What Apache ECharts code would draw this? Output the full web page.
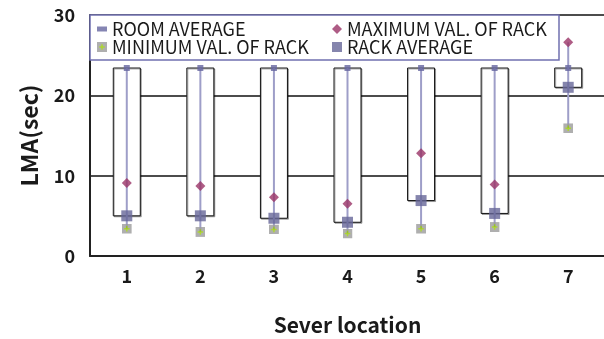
<!DOCTYPE html>
<html>
<head>
<meta charset="utf-8">
<script src="https://cdn.jsdelivr.net/npm/echarts@6/dist/echarts.min.js"></script>
<style>html,body{margin:0;padding:0;background:#fff}#c{width:604px;height:339px}</style>
</head>
<body>
<div id="c"></div>
<script>
var categories = ['1', '2', '3', '4', '5', '6', '7'];
var roomAvg = [23.4, 23.4, 23.4, 23.4, 23.4, 23.4, 23.4];
var maxVal = [9.1, 8.7, 7.3, 6.5, 12.8, 8.9, 26.6];
var minVal = [3.4, 3.0, 3.3, 2.8, 3.4, 3.6, 15.9];
var rackAvg = [5.0, 5.0, 4.7, 4.2, 6.9, 5.3, 21.0];
var yTicks = [0, 10, 20, 30];

var FONT = 'Noto Sans CJK KR';
var minSvg = "<svg xmlns='http://www.w3.org/2000/svg' width='20' height='20'><rect width='20' height='20' fill='#9c9c9c'/><path d='M10 4.5V15.5M4.5 10H15.5' stroke='#9acd00' stroke-width='3'/></svg>";
var minSymbol = 'image://data:image/svg+xml;charset=utf-8,' + encodeURIComponent(minSvg);

var rows = categories.map(function (c, i) {
  return [i, roomAvg[i], maxVal[i], minVal[i], rackAvg[i]];
});

var chart = echarts.init(document.getElementById('c'), null, {renderer: 'canvas'});
var legendText = {fontSize: 18, color: '#1a1a1a', fontFamily: FONT};
chart.setOption({
  animation: false,
  grid: {left: 90, right: -1, top: 15, bottom: 83, outerBoundsMode: 'none', containLabel: false},
  graphic: [{
    type: 'rect', z: 3,
    shape: {x: 90, y: 15, width: 469, height: 45},
    style: {fill: '#fff', stroke: '#7070b0', lineWidth: 1.5}
  }],
  legend: [
    {data: ['ROOM AVERAGE'], left: 97, top: 20, padding: 0, itemWidth: 10, itemHeight: 5, textStyle: legendText, z: 5},
    {data: ['MINIMUM VAL. OF RACK'], left: 97, top: 38, padding: 0, itemWidth: 10, itemHeight: 10, textStyle: legendText, z: 5},
    {data: ['MAXIMUM VAL. OF RACK'], left: 332, top: 20, padding: 0, itemWidth: 10, itemHeight: 10, textStyle: legendText, z: 5},
    {data: ['RACK AVERAGE'], left: 332, top: 38, padding: 0, itemWidth: 10, itemHeight: 10, textStyle: legendText, z: 5}
  ],
  xAxis: {
    type: 'category', data: categories,
    name: 'Sever location', nameLocation: 'middle', nameGap: 59,
    nameTextStyle: {fontSize: 21, fontWeight: 'bold', color: '#1a1a1a', fontFamily: FONT},
    axisLine: {lineStyle: {color: '#222', width: 2}},
    axisTick: {show: false},
    axisLabel: {fontSize: 18, fontWeight: 'bold', color: '#1a1a1a', fontFamily: FONT, margin: 11}
  },
  yAxis: {
    type: 'value', min: yTicks[0], max: yTicks[yTicks.length - 1], interval: 10,
    name: 'LMA(sec)', nameLocation: 'middle', nameGap: 49,
    nameTextStyle: {fontSize: 23, fontWeight: 'bold', color: '#1a1a1a', fontFamily: FONT},
    axisLine: {show: true, lineStyle: {color: '#222', width: 2}},
    axisTick: {show: false},
    axisLabel: {fontSize: 18, fontWeight: 'bold', color: '#1a1a1a', fontFamily: FONT, margin: 15},
    splitLine: {lineStyle: {color: '#111', width: 1.5}}
  },
  series: [
    {
      type: 'custom', name: 'box', data: rows, silent: true,
      encode: {x: 0, y: [1, 4]},
      renderItem: function (params, api) {
        var top = api.coord([api.value(0), api.value(1)]);
        var bot = api.coord([api.value(0), api.value(4)]);
        var w = 27;
        return {
          type: 'rect',
          shape: {x: top[0] - w / 2, y: Math.min(top[1], bot[1]), width: w, height: Math.abs(bot[1] - top[1])},
          style: {fill: '#fff', stroke: '#111', lineWidth: 1, shadowColor: 'rgba(0,0,0,0.3)', shadowOffsetX: 1, shadowOffsetY: 1, shadowBlur: 0}
        };
      }
    },
    {
      type: 'custom', name: 'hilo', data: rows, silent: true,
      encode: {x: 0, y: [1, 2, 3, 4]},
      renderItem: function (params, api) {
        var vals = [api.value(1), api.value(2), api.value(3), api.value(4)];
        var hi = Math.max.apply(null, vals), lo = Math.min.apply(null, vals);
        var p1 = api.coord([api.value(0), hi]);
        var p2 = api.coord([api.value(0), lo]);
        return {
          type: 'line',
          shape: {x1: p1[0], y1: p1[1], x2: p2[0], y2: p2[1]},
          style: {stroke: '#9e9ec8', lineWidth: 2}
        };
      }
    },
    {
      type: 'scatter', name: 'ROOM AVERAGE', data: roomAvg,
      symbol: 'rect', symbolSize: 6, itemStyle: {color: '#6767a0'}
    },
    {
      type: 'scatter', name: 'MAXIMUM VAL. OF RACK', data: maxVal,
      symbol: 'diamond', symbolSize: 10, itemStyle: {color: '#9a3366'}
    },
    {
      type: 'scatter', name: 'MINIMUM VAL. OF RACK', data: minVal,
      symbol: minSymbol, symbolSize: 10, itemStyle: {color: '#9a9a9a'}
    },
    {
      type: 'scatter', name: 'RACK AVERAGE', data: rackAvg,
      symbol: 'rect', symbolSize: 11, itemStyle: {color: '#666699'}
    }
  ]
});
</script>
</body>
</html>
